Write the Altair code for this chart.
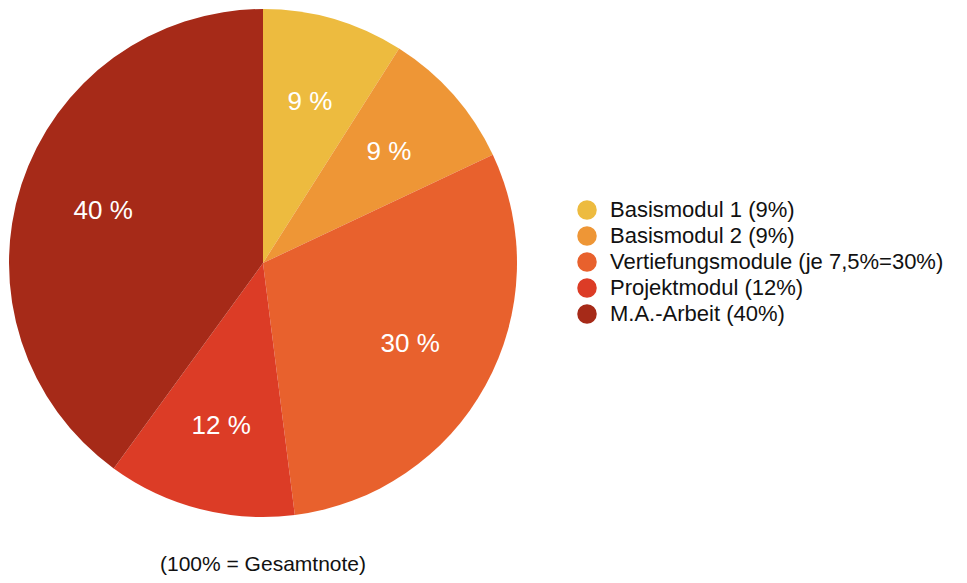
import altair as alt
import pandas as pd

labels = ["Basismodul 1 (9%)", "Basismodul 2 (9%)", "Vertiefungsmodule (je 7,5%=30%)",
          "Projektmodul (12%)", "M.A.-Arbeit (40%)"]
values = [9, 9, 30, 12, 40]
slice_text = ["9 %", "9 %", "30 %", "12 %", "40 %"]
colors = ["#EDBB3F", "#EE9636", "#E8612D", "#DC3C26", "#A62A18"]
caption = ["(100% = Gesamtnote)"]

df = pd.DataFrame({"label": labels, "value": values, "text": slice_text,
                   "order": list(range(len(labels)))})

FONT = "Liberation Sans"
CX, CY, R = 255, 255, 254

color = alt.Color("label:N", scale=alt.Scale(domain=labels, range=colors),
                  legend=alt.Legend(title=None, orient="none", legendX=568, legendY=191,
                                    symbolType="circle", symbolSize=380, symbolStrokeWidth=0,
                                    labelFontSize=22, labelFont=FONT, labelColor="#111111",
                                    labelLimit=600, rowPadding=4, labelOffset=12))

base = alt.Chart(df).encode(
    theta=alt.Theta("value:Q", stack=True),
    order=alt.Order("order:Q"),
)

arc = base.mark_arc(outerRadius=R, stroke=None).encode(
    color=color, x=alt.value(CX), y=alt.value(CY))

txt = base.mark_text(radius=168, fontSize=26, font=FONT, color="white").encode(
    text="text:N", x=alt.value(CX), y=alt.value(CY))

cap = alt.Chart(pd.DataFrame({"c": caption})).mark_text(
    fontSize=21, font=FONT, color="#111111", baseline="bottom").encode(
    text="c:N", x=alt.value(CX), y=alt.value(567))

chart = alt.layer(arc, txt, cap).properties(
    width=951, height=567, autosize=alt.AutoSizeParams(type="none"), padding=0
).configure_view(stroke=None)

chart.save("out.html", embed_options={"renderer": "svg", "actions": False})
